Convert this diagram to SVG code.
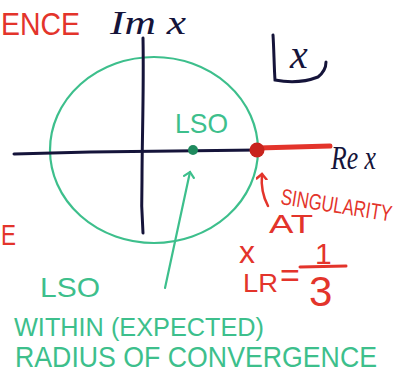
<svg xmlns="http://www.w3.org/2000/svg" width="405" height="385" viewBox="0 0 405 385">
<style>
.red{fill:#e3342b;font-family:"Liberation Sans","DejaVu Sans",sans-serif}
.grn{fill:#3dbf8c;font-family:"Liberation Sans","DejaVu Sans",sans-serif}
.blk{fill:#15143a;font-family:"Liberation Serif","DejaVu Serif",serif;font-style:italic}
.axis{stroke:#15143a;stroke-width:3;fill:none;stroke-linecap:round}
.gline{stroke:#3dbf8c;stroke-width:2.2;fill:none;stroke-linecap:round}
.rline{stroke:#e3342b;stroke-width:2.5;fill:none;stroke-linecap:round}
</style>
<defs>
<marker id="ga" markerWidth="12" markerHeight="12" refX="6" refY="6" orient="auto" markerUnits="userSpaceOnUse">
<path d="M1,1 L6,6 L1,11" fill="none" stroke="#3dbf8c" stroke-width="2.2" stroke-linecap="round"/>
</marker>
<marker id="ra" markerWidth="12" markerHeight="12" refX="6" refY="6" orient="auto" markerUnits="userSpaceOnUse">
<path d="M1,1 L6,6 L1,11" fill="none" stroke="#e3342b" stroke-width="2.5" stroke-linecap="round"/>
</marker>
</defs>
<rect width="405" height="385" fill="#ffffff"/>

<g id="circle">
<ellipse cx="154" cy="150" rx="104" ry="93" class="gline"/>
</g>

<g id="axes">
<path class="axis" d="M14,154 L90,152 L258,150"/>
<path class="axis" d="M143,38 C144,90 142,140 142,180 C141,205 142,220 143,233"/>
<path d="M258,148 L330,146" stroke="#e3342b" stroke-width="5" stroke-linecap="round" fill="none"/>
</g>

<g id="lso-point">
<circle cx="193" cy="150" r="5" fill="#1f8a5e"/>
<text class="grn" x="175" y="133" font-size="28" textLength="53" lengthAdjust="spacingAndGlyphs">LSO</text>
</g>

<g id="singularity-point">
<circle cx="257" cy="150" r="7.5" fill="#c8241d"/>
</g>

<g id="labels">
<text class="red" x="1" y="35" font-size="32" textLength="79" lengthAdjust="spacingAndGlyphs">ENCE</text>
<text class="blk" x="110" y="34" font-size="34" textLength="76" lengthAdjust="spacingAndGlyphs">Im x</text>
<text class="blk" x="331" y="169" font-size="34" textLength="45" lengthAdjust="spacingAndGlyphs">Re x</text>
<text class="red" x="1" y="245" font-size="30" textLength="15" lengthAdjust="spacingAndGlyphs">E</text>
</g>

<g id="variable-box">
<path class="axis" d="M273,35 C274,50 274,65 275,80 C290,83 305,82 318,77 C323,73 326,68 326,62" stroke-width="2.8"/>
<text class="blk" x="290" y="68" font-size="40">x</text>
</g>

<g id="singularity-label">
<text class="red" font-size="18" transform="translate(280 204) rotate(9) scale(1 1.25)" x="0" y="0" textLength="112" lengthAdjust="spacingAndGlyphs">SINGULARITY</text>
<text class="red" x="269" y="233" font-size="26" textLength="44" lengthAdjust="spacingAndGlyphs">AT</text>
</g>

<g id="xlr">
<text class="red" x="239" y="263" font-size="32">x</text>
<text class="red" x="243" y="292" font-size="26" textLength="35" lengthAdjust="spacingAndGlyphs">LR</text>
<text class="red" x="280" y="287" font-size="34">=</text>
<text class="red" x="315" y="264" font-size="30">1</text>
<path d="M300,267 L346,266" stroke="#e3342b" stroke-width="3" stroke-linecap="round"/>
<text class="red" x="309" y="306" font-size="42">3</text>
</g>

<g id="lso-note">
<text class="grn" x="40" y="297" font-size="28" textLength="60" lengthAdjust="spacingAndGlyphs">LSO</text>
<text class="grn" x="14" y="336" font-size="25" textLength="250" lengthAdjust="spacingAndGlyphs">WITHIN (EXPECTED)</text>
<text class="grn" font-size="25" transform="translate(15 367) scale(1 1.16)" x="0" y="0" textLength="362" lengthAdjust="spacingAndGlyphs">RADIUS OF CONVERGENCE</text>
</g>

<g id="connectors">
<path class="gline" d="M165,288 L190,172" marker-end="url(#ga)"/>
<path class="rline" d="M268,206 C262,195 261,185 262,174" marker-end="url(#ra)"/>
</g>
</svg>
